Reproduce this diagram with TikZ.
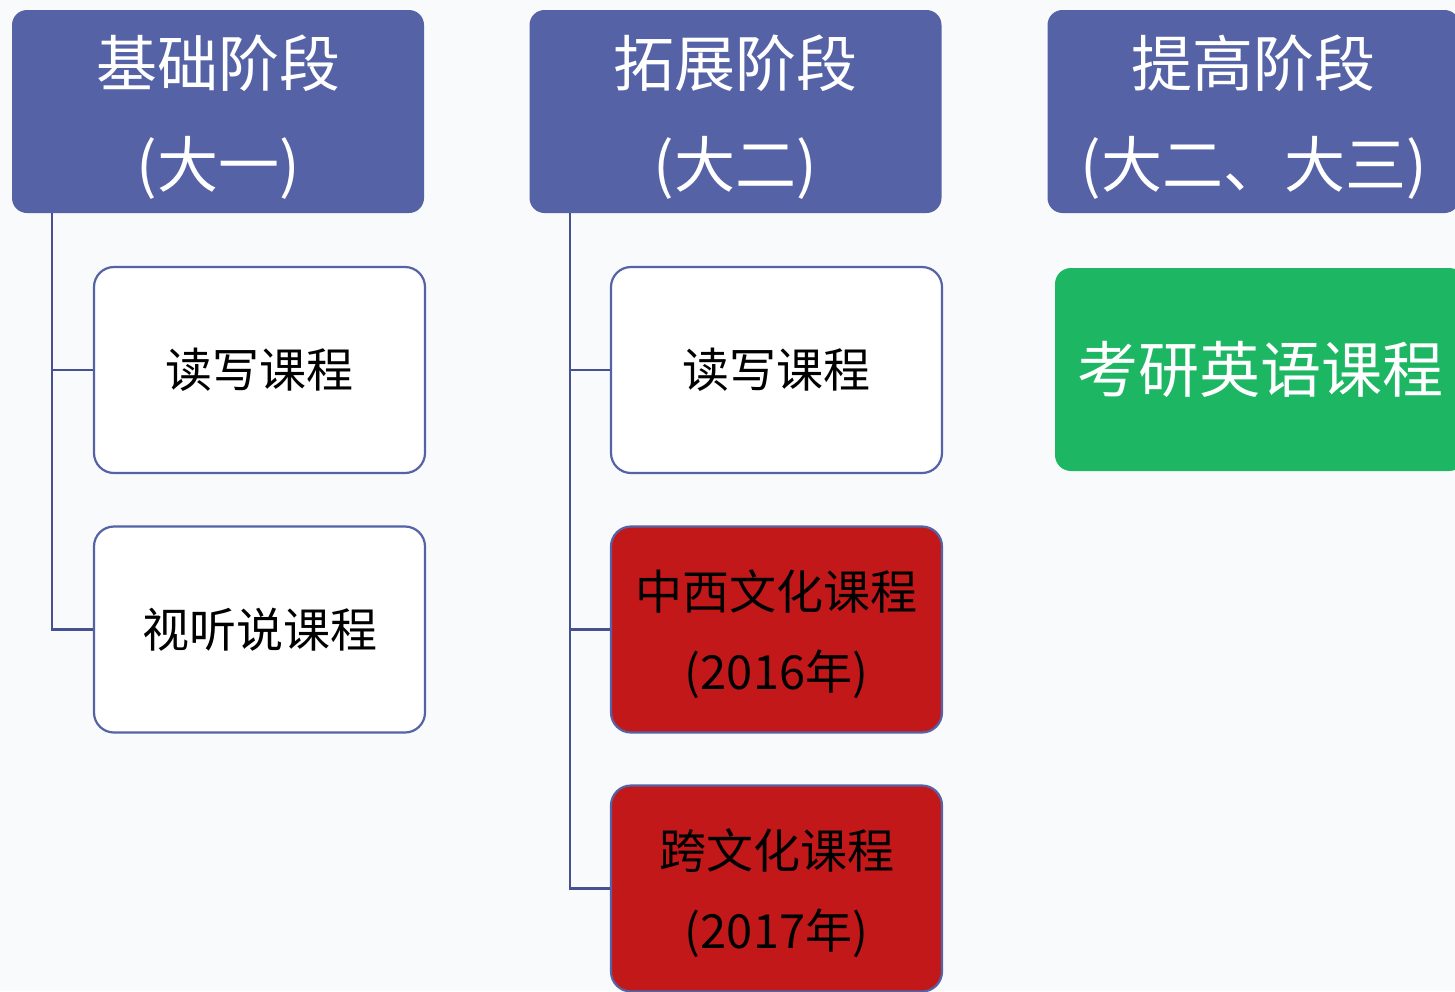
\documentclass[tikz,border=0pt]{standalone}
\usepackage{fontspec}
\setmainfont{Noto Sans CJK SC}
\usetikzlibrary{positioning}
\definecolor{hdrblue}{HTML}{5563A6}
\definecolor{linkblue}{HTML}{47518F}
\definecolor{boxred}{HTML}{C21819}
\definecolor{boxgreen}{HTML}{1DB763}
\definecolor{bgtone}{HTML}{F9FAFC}
\newcommand{\hdrstrut}{\rule{0pt}{62pt}}
\newcommand{\crsstrut}{\rule{0pt}{50pt}}
\tikzset{
  hdr/.style={rounded corners=15pt, fill=hdrblue, draw=none, text=white,
    minimum width=412pt, minimum height=203pt, align=center, inner sep=0pt,
    font=\fontsize{61}{101}\selectfont},
  crs/.style={rounded corners=20pt, draw=hdrblue, line width=2.2pt,
    minimum width=331pt, minimum height=206pt, align=center, inner sep=0pt,
    font=\fontsize{47}{80}\selectfont},
  whitecrs/.style={crs, fill=white, text=black},
  redcrs/.style={crs, fill=boxred, text=black},
  greencrs/.style={rounded corners=16pt, fill=boxgreen, draw=none, text=white,
    minimum width=410pt, minimum height=203pt, align=center, inner sep=0pt,
    font=\fontsize{61}{80}\selectfont},
  conn/.style={draw=linkblue, line width=2.2pt}
}
\begin{document}
\begin{tikzpicture}[x=1pt,y=-1pt]
\useasboundingbox (0,0) rectangle (1455,991);
\fill[bgtone] (0,0) rectangle (1455,991);
\begin{scope}
\clip (0,0) rectangle (1455,991);
% headers
\node[hdr] (h1) at (218,111.5) {\hdrstrut 基础阶段\\(大一)};
\node[hdr] (h2) at (735.5,111.5) {\hdrstrut 拓展阶段\\(大二)};
\node[hdr] (h3) at (1253.5,111.5) {\hdrstrut 提高阶段\\(大二、大三)};
% column 1
\node[whitecrs] (c11) at (259.5,370) {读写课程};
\node[whitecrs] (c12) at (259.5,629.5) {视听说课程};
% column 2
\node[whitecrs] (c21) at (776.5,370) {读写课程};
\node[redcrs] (c22) at (776.5,629.5) {\crsstrut 中西文化课程\\(2016年)};
\node[redcrs] (c23) at (776.5,888.5) {\crsstrut 跨文化课程\\(2017年)};
% column 3
\node[greencrs] (c31) at (1260,369.5) {考研英语课程};
\end{scope}
% connectors
\coordinate (t1) at (h1.south west -| 52,0);
\coordinate (t2) at (h2.south west -| 570,0);
\draw[conn] (t1) |- (c12.west);
\draw[conn] (t1 |- c11.west) -- (c11.west);
\draw[conn] (t2) |- (c23.west);
\draw[conn] (t2 |- c21.west) -- (c21.west);
\draw[conn] (t2 |- c22.west) -- (c22.west);
\end{tikzpicture}
\end{document}
